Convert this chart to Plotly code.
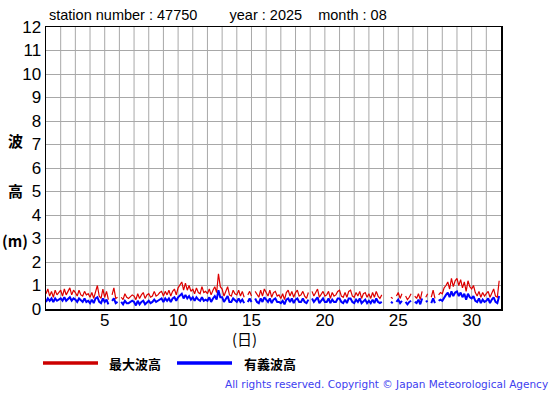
import plotly.graph_objects as go

# 3-hourly samples, 8 per day (00,03,...,21h), days 1..31
max_wave = [
    0.65,0.85,0.55,0.75,0.5,0.8,0.6,0.7,
    0.8,0.55,0.85,0.6,0.75,0.9,0.6,0.8,
    0.7,0.55,0.8,0.6,0.55,0.75,0.6,0.65,
    0.5,0.7,0.45,0.75,1.0,0.55,0.45,0.85,
    0.5,0.75,0.4,None,0.6,0.9,0.45,0.5,
    None,0.5,0.4,0.65,0.5,0.45,0.55,0.6,
    0.55,0.4,0.65,0.45,0.6,0.7,0.45,0.6,
    0.65,0.5,0.55,0.75,0.55,0.6,0.7,0.75,
    0.55,0.75,0.6,0.8,0.55,0.75,0.85,0.6,
    0.9,1.05,1.15,0.8,1.1,0.8,1.0,0.75,
    0.85,0.65,0.9,0.7,0.65,0.95,0.7,0.75,
    0.65,0.85,0.6,0.8,0.95,0.7,1.5,0.95,
    0.85,0.55,0.75,0.95,0.6,0.55,0.8,0.65,
    0.6,0.8,0.55,0.75,0.5,None,0.6,0.75,
    0.55,None,0.75,0.6,0.5,0.8,0.55,0.85,
    0.7,0.55,0.8,0.5,0.7,0.75,0.55,0.6,
    0.45,0.65,0.4,0.7,0.8,0.55,0.75,0.5,
    0.7,0.8,0.55,0.6,0.75,0.55,0.45,0.7,
    None,0.75,0.55,0.7,0.85,0.5,0.65,0.75,
    0.55,0.6,0.75,0.45,0.7,0.55,0.6,0.75,
    0.8,0.55,0.5,0.7,0.5,0.75,0.8,0.55,
    0.5,0.7,0.55,0.75,0.45,0.65,0.7,0.5,
    0.65,0.45,0.7,0.5,0.75,0.55,0.45,0.6,
    None,None,None,None,0.5,0.45,None,0.55,
    0.7,0.45,0.65,None,0.55,0.4,0.5,0.65,
    None,0.55,0.45,0.65,0.4,0.75,None,0.5,
    0.65,None,0.5,0.8,0.45,None,0.6,0.7,
    0.65,0.9,1.0,1.15,0.85,1.3,0.95,1.2,
    1.3,1.0,1.25,0.9,1.15,0.75,1.2,0.95,
    0.85,1.0,0.7,0.55,0.75,0.5,0.7,0.55,
    0.65,0.75,0.5,0.7,0.85,0.55,0.5,1.2,
]
sig_wave = [
    0.3,0.45,0.35,0.45,0.3,0.45,0.35,0.4,
    0.45,0.35,0.5,0.35,0.45,0.5,0.35,0.45,
    0.4,0.3,0.45,0.35,0.3,0.45,0.3,0.35,
    0.25,0.4,0.25,0.45,0.5,0.3,0.25,0.45,
    0.3,0.4,0.2,None,0.35,0.45,0.25,0.3,
    None,0.3,0.2,0.35,0.25,0.25,0.3,0.35,
    0.3,0.15,0.35,0.2,0.3,0.35,0.2,0.3,
    0.35,0.25,0.3,0.4,0.3,0.35,0.4,0.45,
    0.3,0.45,0.35,0.45,0.3,0.45,0.5,0.35,
    0.5,0.6,0.65,0.45,0.6,0.45,0.55,0.4,
    0.5,0.35,0.5,0.4,0.35,0.5,0.35,0.4,
    0.35,0.5,0.3,0.45,0.55,0.4,0.8,0.5,
    0.5,0.3,0.4,0.55,0.3,0.3,0.45,0.35,
    0.3,0.45,0.3,0.4,0.25,None,0.3,0.45,
    0.3,None,0.45,0.3,0.25,0.45,0.3,0.5,
    0.4,0.3,0.45,0.25,0.4,0.45,0.3,0.3,
    0.25,0.35,0.2,0.4,0.45,0.3,0.45,0.25,
    0.4,0.45,0.3,0.3,0.45,0.3,0.25,0.4,
    None,0.45,0.3,0.4,0.5,0.25,0.35,0.45,
    0.3,0.3,0.45,0.25,0.4,0.3,0.3,0.45,
    0.45,0.3,0.25,0.4,0.25,0.45,0.45,0.3,
    0.25,0.4,0.3,0.45,0.25,0.35,0.4,0.25,
    0.35,0.25,0.4,0.25,0.45,0.3,0.25,0.3,
    None,None,None,None,0.3,0.25,None,0.3,
    0.4,0.25,0.35,None,0.3,0.2,0.3,0.35,
    None,0.3,0.25,0.4,0.2,0.45,None,0.3,
    0.35,None,0.25,0.45,0.25,None,0.35,0.4,
    0.35,0.5,0.6,0.7,0.5,0.75,0.55,0.7,
    0.75,0.55,0.7,0.5,0.65,0.4,0.65,0.5,
    0.45,0.55,0.35,0.3,0.45,0.25,0.4,0.3,
    0.35,0.45,0.25,0.4,0.5,0.3,0.25,0.55,
]
days = [1 + i / 8 for i in range(len(max_wave))]

y_ticks = list(range(0, 13))
x_ticks = [5, 10, 15, 20, 25, 30]

title_text = ("station number : 47750" + "&nbsp;" * 8 + "year : 2025" + "&nbsp;" * 4 + "month : 08")

RED = "#dd0000"
BLUE = "#0000ff"
GRID = "#a8a8a8"

W, H = 555, 395
L, R, T, B = 46, 501, 27, 309  # plot area in window pixels


def px(xw):
    return (xw - L) / (R - L)


def py(yw):
    return (B - yw) / (B - T)


fig = go.Figure()
fig.add_trace(go.Scatter(x=days, y=max_wave, mode="lines", line=dict(color=RED, width=1.2),
                         connectgaps=False, showlegend=False, hoverinfo="skip"))
fig.add_trace(go.Scatter(x=days, y=sig_wave, mode="lines", line=dict(color=BLUE, width=2),
                         connectgaps=False, showlegend=False, hoverinfo="skip"))

font_main = "Liberation Sans, Arial, sans-serif"
fig.update_layout(
    width=W, height=H,
    margin=dict(l=L, r=W - R, t=T, b=H - B, pad=0),
    paper_bgcolor="white", plot_bgcolor="white",
    font=dict(family=font_main, color="black"),
    showlegend=False,
)
fig.update_xaxes(range=[1, 32], tickmode="array", tickvals=x_ticks, ticktext=[str(v) for v in x_ticks],
                 showgrid=False, ticks="", ticklen=0, tickfont=dict(size=17), ticklabelstandoff=-5,
                 showline=True, linecolor="black", linewidth=1.5, mirror=True, zeroline=False)
fig.update_yaxes(range=[0, 12], tickmode="array", tickvals=y_ticks, ticktext=[str(v) for v in y_ticks],
                 showgrid=True, gridcolor=GRID, gridwidth=1, ticks="", ticklen=0,
                 tickfont=dict(size=17), showline=True, linecolor="black", linewidth=1.5,
                 mirror=True, zeroline=False)
# vertical day gridlines (every day)
for d in range(2, 32):
    fig.add_shape(type="line", xref="x", yref="paper", x0=d, x1=d, y0=0, y1=1,
                  line=dict(color=GRID, width=1), layer="below")

ann = []
ann.append(dict(text=title_text, x=px(47), y=py(15), xref="paper", yref="paper",
                xanchor="left", yanchor="middle", showarrow=False,
                font=dict(size=14.5, family=font_main)))
for txt, yy in [("<b>波</b>", 140), ("<b>高</b>", 190), ("<b>(m)</b>", 240)]:
    ann.append(dict(text=txt, x=px(15), y=py(yy), xref="paper", yref="paper",
                    xanchor="center", yanchor="middle", showarrow=False,
                    font=dict(size=15, family="Noto Sans CJK JP")))
ann.append(dict(text="(日)", x=px(244), y=py(338), xref="paper", yref="paper",
                xanchor="center", yanchor="middle", showarrow=False,
                font=dict(size=15, family="Noto Sans CJK JP")))
ann.append(dict(text="<b>最大波高</b>", x=px(107), y=py(363), xref="paper", yref="paper",
                xanchor="left", yanchor="middle", showarrow=False,
                font=dict(size=13, family="Noto Sans CJK JP")))
ann.append(dict(text="<b>有義波高</b>", x=px(242), y=py(363), xref="paper", yref="paper",
                xanchor="left", yanchor="middle", showarrow=False,
                font=dict(size=13, family="Noto Sans CJK JP")))
ann.append(dict(text="All rights reserved. Copyright © Japan Meteorological Agency",
                x=px(550), y=py(384), xref="paper", yref="paper",
                xanchor="right", yanchor="middle", showarrow=False,
                font=dict(size=10.5, family="DejaVu Sans", color="#4040f0")))
fig.update_layout(annotations=ann)

fig.add_shape(type="line", xref="paper", yref="paper", x0=px(43), x1=px(98),
              y0=py(363), y1=py(363), line=dict(color="#cc0000", width=3.5))
fig.add_shape(type="line", xref="paper", yref="paper", x0=px(177), x1=px(232),
              y0=py(363), y1=py(363), line=dict(color=BLUE, width=3.5))

fig.write_html("out.html", config={"displayModeBar": False, "staticPlot": True},
               post_script="document.body.style.margin='0';")
